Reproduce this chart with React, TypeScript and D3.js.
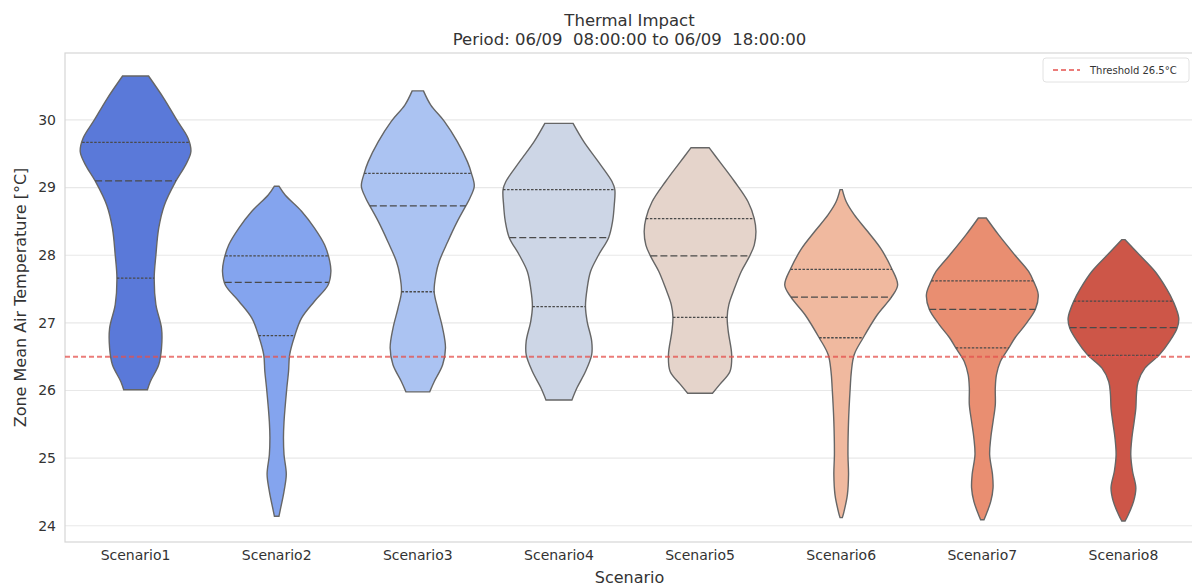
import * as d3 from "d3";

const scenarios = ["Scenario1", "Scenario2", "Scenario3", "Scenario4", "Scenario5", "Scenario6", "Scenario7", "Scenario8"];
const yTicks = [24, 25, 26, 27, 28, 29, 30];
const threshold = 26.5;
const palette = ["#5a79d9", "#84a4ee", "#abc3f2", "#cdd6e6", "#e5d4cb", "#f0b99f", "#e98e71", "#cd5648"];

// quartiles per scenario
const q1 = [27.66, 26.81, 27.46, 27.24, 27.08, 26.78, 26.63, 26.52];
const medians = [29.1, 27.6, 28.73, 28.26, 27.99, 27.38, 27.2, 26.93];
const q3 = [29.67, 27.99, 29.21, 28.97, 28.54, 27.79, 27.62, 27.32];

// [temperature, relative density] profiles, top to bottom
const density1 = [[30.65, 0.23], [30.32, 0.5], [30.0, 0.73], [29.73, 0.93], [29.53, 0.98], [29.34, 0.89], [29.09, 0.71], [28.74, 0.51], [28.4, 0.41], [28.0, 0.36], [27.66, 0.33], [27.27, 0.36], [26.92, 0.46], [26.63, 0.46], [26.38, 0.41], [26.13, 0.26], [26.01, 0.21]];
const density2 = [[29.02, 0.04], [28.89, 0.15], [28.65, 0.44], [28.4, 0.67], [28.15, 0.85], [27.91, 0.94], [27.76, 0.96], [27.56, 0.91], [27.32, 0.67], [27.07, 0.44], [26.81, 0.32], [26.53, 0.23], [26.28, 0.21], [26.04, 0.18], [25.54, 0.13], [25.3, 0.12], [25.05, 0.13], [24.76, 0.17], [24.51, 0.13], [24.26, 0.07], [24.14, 0.04]];
const density3 = [[30.43, 0.1], [30.22, 0.23], [29.98, 0.47], [29.68, 0.7], [29.38, 0.88], [29.21, 0.95], [29.02, 1.0], [28.84, 0.92], [28.73, 0.85], [28.5, 0.7], [28.2, 0.53], [27.91, 0.38], [27.71, 0.32], [27.46, 0.29], [27.22, 0.35], [26.92, 0.44], [26.63, 0.49], [26.38, 0.44], [26.13, 0.29], [25.98, 0.21]];
const density4 = [[29.95, 0.25], [29.68, 0.44], [29.38, 0.7], [29.09, 0.94], [28.97, 0.99], [28.74, 0.98], [28.5, 0.95], [28.26, 0.88], [28.0, 0.7], [27.76, 0.56], [27.51, 0.5], [27.24, 0.47], [27.02, 0.5], [26.73, 0.58], [26.53, 0.58], [26.28, 0.47], [26.04, 0.32], [25.86, 0.23]];
const density5 = [[29.59, 0.16], [29.38, 0.35], [29.09, 0.61], [28.79, 0.85], [28.54, 0.96], [28.35, 0.99], [28.15, 0.96], [27.99, 0.88], [27.76, 0.73], [27.51, 0.61], [27.27, 0.51], [27.08, 0.48], [26.87, 0.5], [26.53, 0.56], [26.28, 0.53], [26.09, 0.35], [25.96, 0.22]];
const density6 = [[28.97, 0.02], [28.79, 0.09], [28.6, 0.23], [28.35, 0.47], [28.1, 0.7], [27.81, 0.89], [27.56, 1.0], [27.38, 0.89], [27.12, 0.64], [26.78, 0.39], [26.53, 0.23], [26.28, 0.18], [26.04, 0.16], [25.54, 0.13], [25.05, 0.12], [24.76, 0.13], [24.46, 0.11], [24.21, 0.05], [24.12, 0.02]];
const density7 = [[28.55, 0.07], [28.3, 0.29], [28.0, 0.58], [27.76, 0.82], [27.61, 0.91], [27.42, 0.99], [27.2, 0.94], [26.97, 0.76], [26.78, 0.58], [26.63, 0.47], [26.43, 0.32], [26.23, 0.25], [26.04, 0.23], [25.79, 0.23], [25.54, 0.19], [25.3, 0.15], [25.05, 0.13], [24.76, 0.18], [24.56, 0.19], [24.36, 0.15], [24.17, 0.07], [24.09, 0.03]];
const density8 = [[28.23, 0.03], [28.0, 0.29], [27.76, 0.56], [27.51, 0.76], [27.32, 0.88], [27.07, 0.98], [26.92, 0.95], [26.73, 0.82], [26.53, 0.64], [26.33, 0.38], [26.13, 0.26], [25.94, 0.23], [25.74, 0.22], [25.54, 0.19], [25.3, 0.15], [25.05, 0.13], [24.81, 0.16], [24.56, 0.22], [24.36, 0.18], [24.17, 0.09], [24.07, 0.03]];
const densities = [density1, density2, density3, density4, density5, density6, density7, density8];

const FONT = "DejaVu Sans, sans-serif";

export default function App() {
  const width = 1192;
  const height = 588;
  const left = 65, right = 1194, top = 53, bottom = 542;

  const x = d3.scaleBand(scenarios, [left, right]);
  const y = d3.scaleLinear([23.76, 30.99], [bottom, top]);
  const w = d3.scaleLinear([0, 1], [0, x.step() * 0.4]);

  const violin = (cx: number) =>
    d3.area<number[]>()
      .y((d) => y(d[0]))
      .x0((d) => cx - w(d[1]))
      .x1((d) => cx + w(d[1]))
      .curve(d3.curveCatmullRom.alpha(0.5));

  const halfAt = (prof: number[][], t: number) =>
    w(d3.scaleLinear(prof.map((d) => d[0]), prof.map((d) => d[1]))(t));

  return (
    <svg width={width} height={height} style={{ position: "absolute", left: 0, top: 0, background: "#fff" }}>
      {/* grid */}
      <g stroke="#e8e8e8" strokeWidth={1.2}>
        {yTicks.map((t) => (
          <line key={t} x1={left} x2={width} y1={y(t)} y2={y(t)} />
        ))}
      </g>
      {/* frame */}
      <rect x={left} y={top} width={right - left} height={bottom - top} fill="none" stroke="#d6d6d6" strokeWidth={1.2} />

      {/* violins */}
      {scenarios.map((s, i) => {
        const cx = x(s)! + x.bandwidth() / 2;
        const prof = densities[i];
        return (
          <g key={s}>
            <path d={violin(cx)(prof)!} fill={palette[i]} stroke="#666" strokeWidth={1.4} />
            {[q3[i], medians[i], q1[i]].map((q, j) => {
              const hw = halfAt(prof, q);
              return (
                <line
                  key={j}
                  x1={cx - hw}
                  x2={cx + hw}
                  y1={y(q)}
                  y2={y(q)}
                  stroke="#4a4a4a"
                  strokeWidth={1.3}
                  strokeDasharray={j === 1 ? "7,3" : "2.5,1.5"}
                />
              );
            })}
          </g>
        );
      })}

      {/* threshold */}
      <line x1={left} x2={width} y1={y(threshold)} y2={y(threshold)} stroke="#e4504c" strokeOpacity={0.75} strokeWidth={2} strokeDasharray="5,3" />

      {/* y axis */}
      <g fontFamily={FONT} fontSize={14} fill="#333" textAnchor="end">
        {yTicks.map((t) => (
          <text key={t} x={left - 9} y={y(t)} dy="0.35em">{t}</text>
        ))}
      </g>
      {/* x axis */}
      <g fontFamily={FONT} fontSize={14} fill="#333" textAnchor="middle">
        {scenarios.map((s) => (
          <text key={s} x={x(s)! + x.bandwidth() / 2} y={bottom + 18}>{s}</text>
        ))}
      </g>

      <text x={(left + right) / 2} y={583} textAnchor="middle" fontFamily={FONT} fontSize={16} fill="#333">Scenario</text>
      <text transform={`translate(26,${(top + bottom) / 2}) rotate(-90)`} textAnchor="middle" fontFamily={FONT} fontSize={16} fill="#333">Zone Mean Air Temperature [°C]</text>

      {/* title */}
      <g fontFamily={FONT} fontSize={16.5} fill="#333" textAnchor="middle">
        <text x={(left + right) / 2} y={26}>Thermal Impact</text>
        <text x={(left + right) / 2} y={45} style={{ whiteSpace: "pre" }}>Period: 06/09  08:00:00 to 06/09  18:00:00</text>
      </g>

      {/* legend */}
      <g>
        <rect x={1043} y={58} width={146} height={24} rx={3} fill="#fff" fillOpacity={0.8} stroke="#e2e2e2" />
        <line x1={1053} x2={1080} y1={70} y2={70} stroke="#e4504c" strokeOpacity={0.75} strokeWidth={2} strokeDasharray="5,3" />
        <text x={1090} y={70} dy="0.35em" fontFamily={FONT} fontSize={10} fill="#333">Threshold 26.5°C</text>
      </g>
    </svg>
  );
}
